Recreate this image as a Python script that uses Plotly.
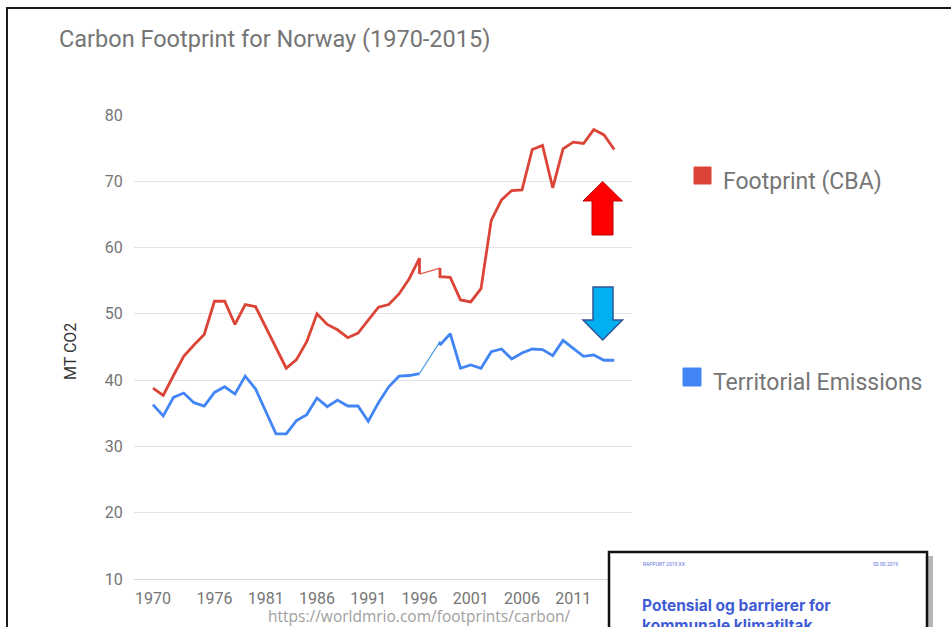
import plotly.graph_objects as go

# ---------------- data ----------------
tick_years = [1970, 1976, 1981, 1986, 1991, 1996, 2001, 2006, 2011]
y_ticks = [10, 20, 30, 40, 50, 60, 70, 80]

# Footprint (CBA) - first part (with the drop at 1996)
cba_years_1 = list(range(1970, 1997)) + [1996]
cba_vals_1 = [38.8, 37.7, 40.7, 43.6, 45.3, 46.9, 51.9, 51.9, 48.4, 51.4,
              51.1, 48.0, 44.9, 41.8, 43.1, 45.8, 50.0, 48.4, 47.6, 46.4,
              47.1, 49.1, 51.0, 51.4, 53.0, 55.3, 58.4, 56.0]
# thin bridge
cba_years_thin = [1996, 1998]
cba_vals_thin = [56.0, 56.9]
# second part
cba_years_2 = [1998] + list(range(1998, 2016))
cba_vals_2 = [56.9, 55.6, 55.5, 52.1, 51.8, 53.8, 64.1, 67.2, 68.6, 68.7,
              74.8, 75.4, 69.0, 74.9, 75.9, 75.7, 77.8, 77.0, 74.8]

# Territorial emissions
ter_years_1 = list(range(1970, 1997))
ter_vals_1 = [36.3, 34.6, 37.4, 38.05, 36.6, 36.1, 38.15, 39.0, 37.9, 40.6,
              38.7, 35.4, 31.9, 31.9, 33.9, 34.8, 37.3, 36.0, 37.0, 36.1,
              36.1, 33.8, 36.6, 39.0, 40.6, 40.7, 41.0]
ter_years_thin = [1996, 1998]
ter_vals_thin = [41.0, 45.8]
ter_years_2 = [1998] + list(range(1998, 2016))
ter_vals_2 = [45.8, 45.3, 47.0, 41.8, 42.3, 41.8, 44.3, 44.7, 43.2, 44.1,
              44.7, 44.6, 43.7, 46.0, 44.8, 43.6, 43.8, 43.0, 43.0]

RED = "#db4437"
BLUE = "#4285f4"

# ---------------- geometry helpers (pixel -> paper) ----------------
L, R, T, B = 134, 632, 115, 579
W, H = 951, 627

def px(x):
    return (x - L) / (R - L)

def py(y):
    return (B - y) / (B - T)

def path(points):
    s = "M " + " L ".join(f"{px(x):.5f},{py(y):.5f}" for x, y in points) + " Z"
    return s

fig = go.Figure()

for xs, ys, col, w in [
    (cba_years_1, cba_vals_1, RED, 2.8),
    (cba_years_thin, cba_vals_thin, "#e25b4f", 1.2),
    (cba_years_2, cba_vals_2, RED, 2.8),
    (ter_years_1, ter_vals_1, BLUE, 2.8),
    (ter_years_thin, ter_vals_thin, "#4a9ae8", 1.2),
    (ter_years_2, ter_vals_2, BLUE, 2.8),
]:
    fig.add_trace(go.Scatter(x=xs, y=ys, mode="lines",
                             line=dict(color=col, width=w),
                             showlegend=False, hoverinfo="skip"))

fig.update_layout(
    width=W, height=H, autosize=False,
    margin=dict(l=L, r=W - R, t=T, b=H - B, pad=0),
    paper_bgcolor="white", plot_bgcolor="white",
    font=dict(family="Roboto", color="#757575", size=16),
    showlegend=False,
)
fig.update_xaxes(range=[1968.15, 2016.73], tickvals=tick_years,
                 ticktext=[str(t) for t in tick_years],
                 showgrid=False, zeroline=False,
                 showline=True, linecolor="#d4d4d4", linewidth=1,
                 ticks="outside", ticklen=5, tickcolor="rgba(0,0,0,0)",
                 tickfont=dict(size=16, color="#757575"))
fig.update_yaxes(range=[10, 80], tickvals=y_ticks,
                 showgrid=True, gridcolor="#e4e4e4", gridwidth=1,
                 zeroline=False, showline=False,
                 ticks="outside", ticklen=7, tickcolor="rgba(0,0,0,0)",
                 tickfont=dict(size=16, color="#757575"))

shapes = []
annotations = []

# frame of the slide image
shapes.append(dict(type="rect", xref="paper", yref="paper",
                   x0=px(7), x1=px(980), y0=py(8), y1=py(680),
                   line=dict(color="#1a1a1a", width=2), fillcolor="rgba(0,0,0,0)",
                   layer="above"))

# legend squares
shapes.append(dict(type="rect", xref="paper", yref="paper",
                   x0=px(694), x1=px(711), y0=py(167), y1=py(184),
                   line=dict(color=RED, width=1), fillcolor=RED))
shapes.append(dict(type="rect", xref="paper", yref="paper",
                   x0=px(683), x1=px(701), y0=py(368), y1=py(386),
                   line=dict(color=BLUE, width=1), fillcolor=BLUE))

# arrows
shapes.append(dict(type="path", xref="paper", yref="paper",
                   path=path([(592, 235), (592, 201), (583, 201), (602.7, 181.5),
                              (622.5, 201), (613, 201), (613, 235)]),
                   fillcolor="#ff0000", line=dict(color="#c00000", width=1)))
shapes.append(dict(type="path", xref="paper", yref="paper",
                   path=path([(593, 287), (613, 287), (613, 320), (622.5, 320),
                              (602.7, 340), (583, 320), (593, 320)]),
                   fillcolor="#00b0f0", line=dict(color="#2f5597", width=1.5)))

# inset report cover (shadow + page)
shapes.append(dict(type="rect", xref="paper", yref="paper",
                   x0=px(613), x1=px(933), y0=py(556), y1=py(680),
                   line=dict(width=0), fillcolor="rgba(90,90,90,0.45)"))
shapes.append(dict(type="rect", xref="paper", yref="paper",
                   x0=px(609), x1=px(927), y0=py(552), y1=py(680),
                   line=dict(color="#111111", width=2.5), fillcolor="white"))

fig.update_layout(shapes=shapes)

def ann(text, x, y, size, color, xanchor="left", family="Roboto", textangle=0):
    annotations.append(dict(text=text, xref="paper", yref="paper",
                            x=px(x), y=py(y), xanchor=xanchor, yanchor="middle",
                            showarrow=False, textangle=textangle,
                            font=dict(size=size, color=color, family=family)))

ann("Carbon Footprint for Norway (1970-2015)", 57, 39, 23.5, "#757575")
ann("MT CO2", 70, 352, 16, "#333333", xanchor="center", textangle=-90)
ann("Footprint (CBA)", 721, 181, 23, "#757575")
ann("Territorial Emissions", 711, 382, 23, "#757575")
ann("https://worldmrio.com/footprints/carbon/", 419, 616, 15.5, "#a0a0a0",
    xanchor="center", family="Open Sans")
ann("RAPPORT 2019:XX", 641, 564, 5, "#5f74dc")
ann("00.00.2019", 900, 564, 5, "#5f74dc", xanchor="right")
ann("<b>Potensial og barrierer for</b>", 640, 605, 15.5, "#3f5bd6", family="Inter")
ann("<b>kommunale klimatiltak</b>", 640, 625, 15.5, "#3f5bd6", family="Inter")

fig.update_layout(annotations=annotations)

fig.write_html("out.html",
               config={"displayModeBar": False, "staticPlot": True},
               post_script="document.body.style.margin='0';document.body.style.overflow='hidden';")
